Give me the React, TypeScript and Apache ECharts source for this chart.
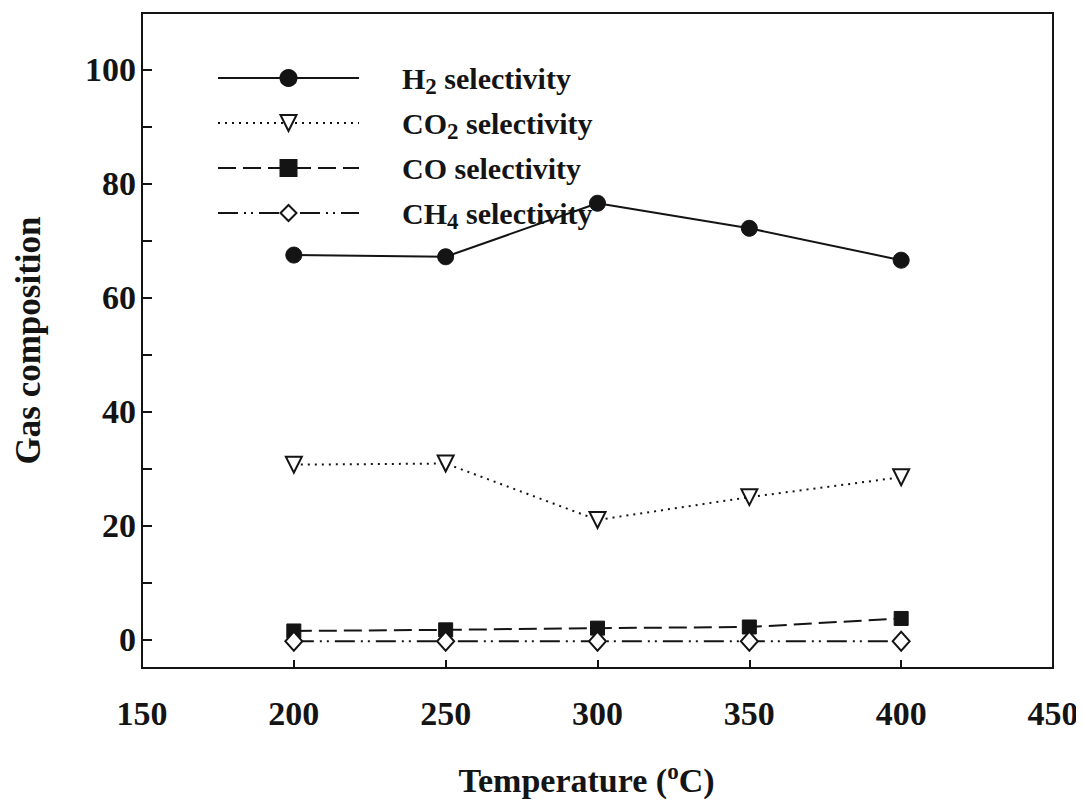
import { useEffect, useRef } from "react";
import * as echarts from "echarts";

// Reaction temperature (°C) and product selectivities (%)
const temperatures = [200, 250, 300, 350, 400];
const h2Selectivity = [67.5, 67.2, 76.6, 72.2, 66.6];
const co2Selectivity = [30.7, 30.9, 21.0, 25.0, 28.5];
const coSelectivity = [1.5, 1.7, 2.0, 2.2, 3.7];
const ch4Selectivity = [-0.3, -0.3, -0.3, -0.3, -0.3];

const xTickValues = [150, 200, 250, 300, 350, 400, 450];
const yLabelValues = [0, 20, 40, 60, 80, 100];
const yTickValues = [0, 10, 20, 30, 40, 50, 60, 70, 80, 90, 100];

const seriesNames = ["H2 selectivity", "CO2 selectivity", "CO selectivity", "CH4 selectivity"];
const legendLabels: Record<string, string> = {
  "H2 selectivity": "{m|H}{s|2}{m| selectivity}",
  "CO2 selectivity": "{m|CO}{s|2}{m| selectivity}",
  "CO selectivity": "{m|CO selectivity}{s| }",
  "CH4 selectivity": "{m|CH}{s|4}{m| selectivity}",
};

const FONT = "'Liberation Serif', 'Times New Roman', serif";
const INK = "#141414";

function pairs(values: number[]) {
  return temperatures.map((t, i) => [t, values[i]]);
}

export default function App() {
  const ref = useRef<HTMLDivElement>(null);

  useEffect(() => {
    if (!ref.current) return;
    const chart = echarts.init(ref.current, undefined, { renderer: "svg" });

    const lineBase = { color: INK, width: 2 };

    chart.setOption({
      animation: false,
      backgroundColor: "#fff",
      grid: {
        left: 142,
        right: 31,
        top: 13,
        bottom: 141,
        show: true,
        borderColor: INK,
        borderWidth: 2,
        backgroundColor: "transparent",
      },
      legend: {
        orient: "vertical",
        left: 212,
        top: 58,
        itemWidth: 141,
        itemHeight: 20,
        itemGap: 10,
        data: seriesNames,
        formatter: (name: string) => legendLabels[name],
        textStyle: {
          padding: [0, 0, 0, 38],
          rich: {
            m: { fontFamily: FONT, fontWeight: "bold", fontSize: 30, color: INK, lineHeight: 40 },
            s: {
              fontFamily: FONT,
              fontWeight: "bold",
              fontSize: 23,
              color: INK,
              lineHeight: 21,
              verticalAlign: "bottom",
            },
          },
        },
      },
      xAxis: {
        type: "value",
        min: 150,
        max: 450,
        interval: 50,
        name: "{m|Temperature (}{o|o}{m|C)}",
        nameLocation: "middle",
        nameGap: 92,
        nameTextStyle: {
          padding: [0, 22, 0, 0],
          rich: {
            m: { fontFamily: FONT, fontWeight: "bold", fontSize: 34, color: INK, lineHeight: 40 },
            o: {
              fontFamily: FONT,
              fontWeight: "bold",
              fontSize: 23,
              color: INK,
              lineHeight: 18,
              verticalAlign: "top",
            },
          },
        },
        axisLine: { show: true, onZero: false, lineStyle: { color: INK, width: 2 } },
        axisTick: {
          show: true,
          inside: true,
          length: 8,
          customValues: xTickValues,
          lineStyle: { color: INK, width: 2 },
        },
        axisLabel: {
          customValues: xTickValues,
          margin: 28,
          fontFamily: FONT,
          fontWeight: "bold",
          fontSize: 34,
          color: INK,
        },
        splitLine: { show: false },
      },
      yAxis: {
        type: "value",
        min: -5,
        max: 110,
        name: "Gas composition",
        nameLocation: "middle",
        nameRotate: 90,
        nameGap: 96,
        nameTextStyle: {
          fontFamily: FONT,
          fontWeight: "bold",
          fontSize: 35,
          color: INK,
        },
        axisLine: { show: true, onZero: false, lineStyle: { color: INK, width: 2 } },
        axisTick: {
          show: true,
          inside: true,
          length: 10,
          customValues: yTickValues,
          lineStyle: { color: INK, width: 2 },
        },
        axisLabel: {
          customValues: yLabelValues,
          margin: 6,
          fontFamily: FONT,
          fontWeight: "bold",
          fontSize: 34,
          color: INK,
        },
        splitLine: { show: false },
      },
      series: [
        {
          name: seriesNames[0],
          type: "line",
          data: pairs(h2Selectivity),
          symbol: "circle",
          symbolSize: 16,
          lineStyle: { ...lineBase, type: "solid" },
          itemStyle: { color: INK, borderColor: INK, borderWidth: 1 },
          z: 4,
        },
        {
          name: seriesNames[1],
          type: "line",
          data: pairs(co2Selectivity),
          symbol: "triangle",
          symbolRotate: 180,
          symbolSize: 16,
          lineStyle: { ...lineBase, type: [2, 5] },
          itemStyle: { color: "#fff", borderColor: INK, borderWidth: 2 },
          z: 3,
        },
        {
          name: seriesNames[2],
          type: "line",
          data: pairs(coSelectivity),
          symbol: "rect",
          symbolSize: 14,
          lineStyle: { ...lineBase, type: [18, 7] },
          itemStyle: { color: INK, borderColor: INK, borderWidth: 1 },
          z: 2,
        },
        {
          name: seriesNames[3],
          type: "line",
          data: pairs(ch4Selectivity),
          symbol: "diamond",
          symbolSize: [17, 19],
          lineStyle: { ...lineBase, type: [20, 6, 2, 5, 2, 6] },
          itemStyle: { color: "#fff", borderColor: INK, borderWidth: 2 },
          z: 3,
        },
      ],
    });

    return () => chart.dispose();
  }, []);

  return <div ref={ref} style={{ width: 1084, height: 809, margin: -8 }} />;
}
